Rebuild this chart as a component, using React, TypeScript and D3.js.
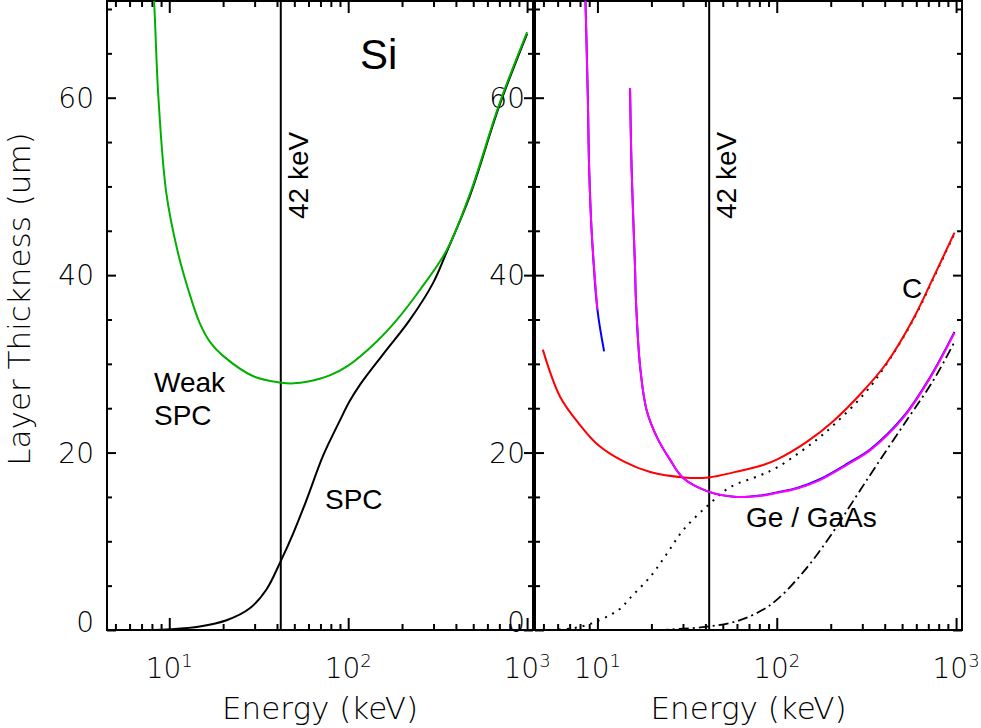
import React, { useEffect, useRef } from "react";
import * as d3 from "d3";

// Left panel: Si
const siWeakEnergy = [8.1, 8.21, 8.69, 9.62, 11.1, 12.8, 14.8, 17, 20, 29.5, 41.6, 49.4, 59.7, 78.8, 100, 144, 186, 251, 355, 480, 700, 1000];
const siWeakThick = [72, 71, 60.1, 49.3, 42.8, 38.3, 34.6, 32.4, 30.9, 28.6, 27.9, 27.8, 28.0, 28.7, 29.8, 32.5, 34.9, 38.3, 42.8, 49.2, 59.3, 67.4];
const siSpcEnergy = [8, 10.1, 14.8, 20.9, 28.2, 35, 41.6, 49.3, 58.6, 72.6, 89.8, 102, 116, 157, 220, 298, 355, 480, 700, 1000];
const siSpcThick = [0, 0.08, 0.4, 1.1, 2.45, 4.6, 7.6, 10.9, 14.7, 19.7, 23.6, 25.8, 27.6, 31.1, 34.9, 39.1, 42.6, 49.0, 59.1, 67.2];

// Right panel: C, Ge, GaAs
const cWeakEnergy = [4.96, 6.19, 8.0, 9.9, 14.0, 19.7, 30.2, 41.6, 59.9, 84, 100, 147, 208, 293, 410, 575, 750, 980];
const cWeakThick = [31.6, 26.3, 23.1, 21.0, 19.0, 17.8, 17.2, 17.2, 17.85, 18.6, 19.2, 21.2, 23.6, 26.6, 30.1, 35.0, 39.8, 44.8];
const cSpcEnergy = [5.5, 7.35, 9.3, 11.8, 13.4, 15.2, 19.7, 24.4, 30.2, 41.6, 55, 80, 100, 147, 190, 307, 410, 575, 750, 980];
const cSpcThick = [0, 0.2, 0.75, 1.7, 2.4, 3.6, 6.0, 8.6, 11.3, 14.1, 16.1, 17.4, 18.3, 20.6, 22.4, 26.6, 30.0, 34.9, 39.7, 44.7];

const geLowEnergy = [8.55, 8.84, 8.99, 9.3, 10.0, 10.9];
const geLowThick = [72, 60.1, 52.2, 44.7, 36.1, 31.4];
const gaasLowEnergy = [8.55, 8.84, 8.99, 9.3, 10.0];
const gaasLowThick = [72, 60.1, 52.2, 44.7, 36.1];

const geHighEnergy = [15.2, 15.5, 16.2, 16.4, 17.3, 18.8, 21.4, 25.4, 30.2, 41.6, 59.9, 80, 100, 130, 174, 250, 334, 511, 716, 980];
const geHighThick = [61.1, 52.2, 41, 37.2, 29.7, 24.8, 21.8, 19.2, 17.1, 15.6, 15.0, 15.15, 15.5, 16.0, 17.0, 18.8, 20.4, 24.1, 28.5, 33.6];
const gaasHighEnergy = [15.2, 15.5, 16.2, 16.4, 17.3, 18.8, 21.4, 25.4, 30.2, 41.6, 59.9, 80, 100, 130, 174, 250, 334, 511, 716, 980];
const gaasHighThick = [61.1, 52.2, 41, 37.2, 29.7, 24.8, 21.8, 19.2, 17.1, 15.6, 15.0, 15.1, 15.45, 15.95, 16.9, 18.7, 20.3, 24.0, 28.4, 33.5];

const geSpcEnergy = [22, 25, 40, 60, 84, 104, 147, 199, 268, 361, 533, 750, 970];
const geSpcThick = [0, 0.05, 0.35, 1.0, 2.3, 3.7, 7.0, 10.6, 14.6, 18.6, 23.7, 28.2, 32.3];

const markerEnergy = 42;
const xMajor = [10, 100, 1000];
const xMajorExp = ["1", "2", "3"];
const xMinor = [5, 6, 7, 8, 9, 20, 30, 40, 50, 60, 70, 80, 90, 200, 300, 400, 500, 600, 700, 800, 900];
const yMajor = [0, 20, 40, 60];
const yMinor = [5, 10, 15, 25, 30, 35, 45, 50, 55, 65, 70];

const App = () => {
    const svgRef = useRef<SVGSVGElement>(null);

    useEffect(() => {
        const width = 981, height = 728;
        const top = 1, bottom = 630;
        const axisFont = "'DejaVu Sans', sans-serif";
        const labelFont = "'Liberation Sans', Arial, sans-serif";

        const svg = d3.select(svgRef.current)
            .attr("width", width)
            .attr("height", height);

        svg.selectAll("*").remove();

        const y = d3.scaleLinear().domain([0, 70.9]).range([bottom, top]);

        const panels = [
            { id: "si", x0: 107, x1: 533 },
            { id: "ge", x0: 535, x1: 962 },
        ];

        const scales = panels.map(p => d3.scaleLog().domain([4.487, 1079]).range([p.x0, p.x1]));

        panels.forEach((p, i) => {
            const x = scales[i];

            svg.append("clipPath").attr("id", `clip-${p.id}`)
                .append("rect")
                .attr("x", p.x0).attr("y", top)
                .attr("width", p.x1 - p.x0).attr("height", bottom - top);

            const tickGroup = (axis, tx, ty) => {
                const g = svg.append("g")
                    .attr("transform", `translate(${tx},${ty})`)
                    .call(axis);
                g.select(".domain").remove();
                g.selectAll("line").attr("stroke", "black").attr("stroke-width", 2);
                g.selectAll("text").remove();
            };

            tickGroup(d3.axisBottom(x).tickValues(xMajor).tickSize(-12), 0, bottom);
            tickGroup(d3.axisBottom(x).tickValues(xMinor).tickSize(-6), 0, bottom);
            tickGroup(d3.axisTop(x).tickValues(xMajor).tickSize(-12), 0, top);
            tickGroup(d3.axisTop(x).tickValues(xMinor).tickSize(-6), 0, top);
            tickGroup(d3.axisLeft(y).tickValues(yMajor).tickSize(-9), p.x0, 0);
            tickGroup(d3.axisLeft(y).tickValues(yMinor).tickSize(-5), p.x0, 0);
            tickGroup(d3.axisRight(y).tickValues(yMajor).tickSize(-9), p.x1, 0);
            tickGroup(d3.axisRight(y).tickValues(yMinor).tickSize(-5), p.x1, 0);

            svg.append("rect")
                .attr("x", p.x0).attr("y", top)
                .attr("width", p.x1 - p.x0).attr("height", bottom - top)
                .attr("fill", "none")
                .attr("stroke", "black")
                .attr("stroke-width", 2);

            // x tick labels with exponents
            xMajor.forEach((v, k) => {
                const t = svg.append("text")
                    .attr("x", x(v))
                    .attr("y", 678)
                    .attr("text-anchor", "middle")
                    .attr("font-family", axisFont)
                    .attr("font-weight", 200)
                    .attr("font-size", 28);
                t.append("tspan").text("10");
                t.append("tspan").attr("dy", -11).attr("font-size", 18).text(xMajorExp[k]);
            });

            // y tick labels (the zero sits a little higher, as in IDL output)
            yMajor.forEach(v => {
                svg.append("text")
                    .attr("x", p.x0 - (i === 0 ? 13 : 10))
                    .attr("y", y(v) + (v === 0 ? 2 : 10))
                    .attr("text-anchor", "end")
                    .attr("font-family", axisFont)
                    .attr("font-weight", 200)
                    .attr("font-size", 28)
                    .text(v);
            });

            svg.append("text")
                .attr("x", (p.x0 + p.x1) / 2)
                .attr("y", 719)
                .attr("text-anchor", "middle")
                .attr("font-family", axisFont)
                .attr("font-weight", 200)
                .attr("font-size", 31)
                .text("Energy (keV)");

            // 42 keV marker
            svg.append("line")
                .attr("x1", x(markerEnergy)).attr("x2", x(markerEnergy))
                .attr("y1", top).attr("y2", bottom)
                .attr("stroke", "black")
                .attr("stroke-width", 2);

            svg.append("text")
                .attr("transform", `translate(${x(markerEnergy) + 27},219) rotate(-90)`)
                .attr("font-family", labelFont)
                .attr("font-size", 28)
                .text("42 keV");
        });

        svg.append("text")
            .attr("transform", "translate(30,299) rotate(-90)")
            .attr("text-anchor", "middle")
            .attr("font-family", axisFont)
            .attr("font-weight", 200)
            .attr("font-size", 31)
            .text("Layer Thickness (um)");

        const drawCurve = (panel, energy, thick, color, dash, widthPx) => {
            const x = scales[panel];
            const pts = energy.map((e, k) => [e, thick[k]]);
            const line = d3.line()
                .x(d => x(d[0]))
                .y(d => y(d[1]))
                .curve(d3.curveCatmullRom.alpha(0.5));
            svg.append("path")
                .attr("d", line(pts))
                .attr("clip-path", `url(#clip-${panels[panel].id})`)
                .attr("fill", "none")
                .attr("stroke", color)
                .attr("stroke-width", widthPx)
                .attr("stroke-dasharray", dash);
        };

        // Si
        drawCurve(0, siSpcEnergy, siSpcThick, "black", null, 2);
        drawCurve(0, siWeakEnergy, siWeakThick, "#00b000", null, 2);

        // C, Ge, GaAs
        drawCurve(1, cSpcEnergy, cSpcThick, "black", "2,6", 2);
        drawCurve(1, cWeakEnergy, cWeakThick, "#ff0000", null, 2);
        drawCurve(1, geSpcEnergy, geSpcThick, "black", "10,4,2,4", 1.8);
        drawCurve(1, geLowEnergy, geLowThick, "#0000ff", null, 2);
        drawCurve(1, geHighEnergy, geHighThick, "#0000ff", null, 2);
        drawCurve(1, gaasLowEnergy, gaasLowThick, "#ff00ff", null, 2);
        drawCurve(1, gaasHighEnergy, gaasHighThick, "#ff00ff", null, 2);

        const note = (txt, px, py, size) => {
            svg.append("text")
                .attr("x", px).attr("y", py)
                .attr("font-family", labelFont)
                .attr("font-size", size)
                .text(txt);
        };

        note("Si", 360, 69, 42);
        note("Weak", 154, 392, 28);
        note("SPC", 154, 425, 28);
        note("SPC", 325, 509, 28);
        note("C", 902, 298, 28);
        note("Ge / GaAs", 746, 527, 28);
    }, []);

    return <svg ref={svgRef} style={{ position: "absolute", left: 0, top: 0 }}></svg>;
};

export default App;
